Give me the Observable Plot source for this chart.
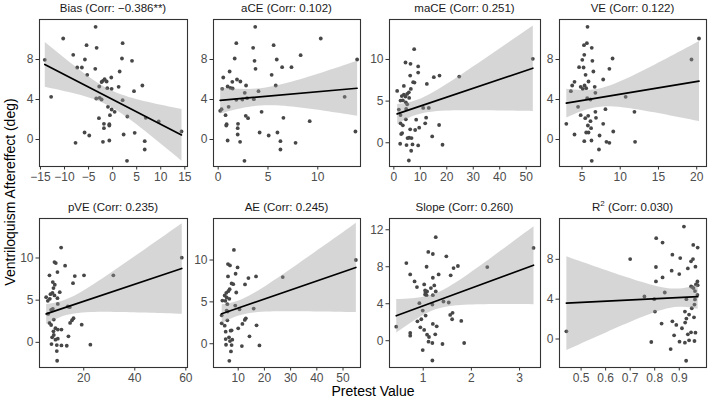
<!DOCTYPE html>
<html><head><meta charset="utf-8">
<script src="https://cdn.jsdelivr.net/npm/d3@7"></script>
<script src="https://cdn.jsdelivr.net/npm/@observablehq/plot@0.6"></script>
<style>
body{margin:0;background:#fff;font-family:"Liberation Sans",Arial,sans-serif;}
#chart{position:relative;width:709px;height:403px;overflow:hidden;}
.title{position:absolute;font-size:11.5px;color:#1a1a1a;text-align:center;white-space:nowrap;line-height:1;}
.title sup{font-size:8px;vertical-align:5px;line-height:0;}
.lab{position:absolute;font-size:14px;color:#000;white-space:nowrap;line-height:1;}
</style></head><body><div id="chart"></div>
<script>
// ---- data: [pretest value, ventriloquism aftereffect] per subject ----
const bias = [[-3.54,11.27],[-10.28,10.1],[2.08,9.63],[-5.42,9.43],[-3.33,9.17],[-8.19,8.47],[-14.1,7.97],[-5.76,8.0],[1.94,8.1],[4.03,7.87],[-7.36,7.2],[-6.39,7.2],[-3.61,7.07],[1.46,6.8],[-5.28,6.47],[-0.28,6.2],[-2.01,5.87],[-1.67,6.03],[-1.25,5.8],[-2.3,5.75],[6.18,5.4],[-2.78,5.3],[-1.11,5.13],[-0.21,5.07],[1.25,5.27],[4.44,4.83],[-12.78,4.27],[-3.4,4.1],[-2.71,4.17],[-2.29,4.0],[2.08,3.93],[-0.97,3.27],[-0.21,3.0],[0.42,2.77],[-0.56,2.43],[3.06,2.3],[-2.85,2.13],[6.88,2.17],[9.58,1.8],[-1.81,1.57],[-0.69,1.53],[-0.69,1.4],[-1.81,1.13],[14.31,0.8],[-5.83,0.7],[-4.86,0.4],[2.29,0.5],[4.58,0.67],[-0.69,-0.1],[-7.71,-0.33],[-2.01,-0.23],[6.67,-0.17],[6.67,-1.0],[2.99,-2.13]];
const aCE = [[3.72,11.27],[10.3,10.1],[1.82,9.63],[5.57,9.43],[3.51,9.17],[8.28,8.43],[1.66,8.1],[13.95,8.0],[5.88,8.0],[3.65,7.87],[6.42,7.23],[7.36,7.23],[3.75,7.07],[1.15,6.8],[5.37,6.47],[0.51,6.2],[1.89,6.0],[2.23,5.8],[1.42,5.77],[5.78,5.4],[2.8,5.4],[0.95,5.3],[1.22,5.17],[0.41,5.07],[1.45,5.1],[4.05,4.83],[2.67,4.67],[12.7,4.27],[2.9,4.13],[1.82,3.97],[2.43,4.0],[3.58,4.03],[1.05,3.27],[4.36,2.77],[0.2,2.87],[0.34,3.03],[0.74,2.43],[2.77,2.37],[3.0,2.13],[6.55,2.17],[9.19,1.83],[1.99,1.57],[0.85,1.53],[0.81,1.4],[1.96,1.13],[13.78,0.8],[4.16,0.7],[5.95,0.7],[5.07,0.4],[1.96,0.5],[0.95,-0.1],[2.2,-0.23],[6.25,-0.17],[7.77,-0.33],[6.25,-1.0],[2.64,-2.13]];
const maCE = [[7.68,11.24],[4.41,9.64],[6.3,9.48],[9.19,9.16],[9.19,8.43],[6.17,8.07],[17.25,8.07],[15.1,7.87],[24.7,7.95],[52.5,10.08],[7.3,7.27],[7.8,7.23],[12.47,7.07],[3.78,6.83],[6.42,6.47],[1.26,6.22],[5.67,6.06],[5.04,5.86],[3.78,5.78],[5.79,5.38],[2.52,5.06],[3.4,5.1],[3.0,5.6],[4.4,5.55],[4.53,4.86],[5.04,4.62],[4.66,4.06],[1.89,3.98],[11.08,4.18],[13.2,4.18],[2.52,3.33],[12.2,3.01],[4.53,2.81],[8.44,2.77],[2.52,2.33],[3.4,2.09],[11.84,2.33],[17.1,2.13],[6.17,1.61],[8.06,1.53],[9.57,1.81],[3.15,1.16],[2.77,1.04],[5.79,0.6],[6.68,0.56],[5.16,0.56],[14.48,0.76],[2.39,-0.12],[4.79,-0.28],[7.05,-0.2],[9.19,-0.32],[18.39,-0.24],[6.55,-0.96],[5.67,-2.13]];
const VE = [[5.72,11.27],[20.3,10.1],[5.64,9.63],[5.26,9.43],[6.28,9.17],[5.3,8.47],[9.0,8.1],[19.32,8.0],[5.04,7.97],[6.36,7.87],[4.62,7.23],[5.21,7.2],[8.58,7.07],[6.49,6.8],[5.47,6.47],[7.77,6.0],[5.85,5.8],[4.02,5.77],[3.72,5.4],[6.66,5.27],[4.83,5.27],[5.34,5.4],[5.55,5.13],[5.09,5.07],[3.55,4.83],[6.75,4.67],[5.68,4.13],[10.71,4.27],[6.11,4.0],[4.49,3.27],[8.07,3.03],[6.75,2.77],[11.86,2.77],[4.83,2.43],[5.81,2.37],[5.43,2.13],[6.83,2.17],[6.11,1.83],[7.77,1.57],[2.95,1.57],[5.77,1.4],[6.19,1.13],[9.09,0.8],[4.02,0.5],[5.55,0.7],[5.85,0.7],[7.3,0.4],[5.3,-0.17],[6.24,-0.1],[8.2,-0.23],[8.58,-0.33],[11.94,-0.23],[7.22,-1.0],[6.28,-2.13]];
const pVE = [[11.14,11.23],[58.4,10.04],[8.53,9.52],[9.06,9.4],[12.7,9.09],[9.7,8.33],[20.1,7.94],[31.6,7.94],[16.5,7.86],[6.58,7.94],[7.88,7.14],[8.66,6.83],[15.8,7.02],[8.14,6.43],[10.6,5.95],[5.28,5.36],[6.97,5.71],[7.75,5.87],[8.53,5.56],[9.7,5.24],[5.93,4.92],[6.71,5.16],[7.88,3.97],[7.23,3.85],[13.75,4.25],[14.5,4.17],[9.84,4.56],[6.06,3.37],[8.27,2.7],[16.0,2.86],[15.4,2.62],[14.65,2.3],[6.58,2.3],[7.23,2.06],[19.2,2.1],[8.92,1.67],[11.27,1.51],[9.84,1.51],[8.14,1.31],[8.27,0.87],[14.0,0.71],[7.62,0.6],[9.84,0.44],[8.92,0.32],[7.36,-0.2],[11.27,-0.36],[13.35,-0.4],[22.6,-0.28],[9.45,-0.32],[9.45,-1.03],[9.58,-2.18]];
const AE = [[8.36,11.2],[54.9,10.0],[6.1,9.52],[6.86,9.36],[9.75,9.12],[9.0,8.36],[16.8,8.04],[27.0,7.96],[13.9,7.84],[6.1,8.04],[7.48,7.2],[8.1,7.12],[12.6,7.08],[6.73,6.52],[9.25,6.12],[4.84,5.76],[5.47,6.08],[6.23,6.28],[5.6,5.52],[6.6,5.36],[3.96,5.16],[5.09,5.12],[5.85,4.72],[5.6,3.96],[5.97,3.84],[10.5,4.12],[15.9,4.2],[8.87,4.56],[3.7,3.4],[5.85,2.8],[12.9,3.04],[12.5,2.84],[11.6,2.36],[3.7,2.44],[4.84,2.16],[17.0,2.2],[7.1,1.56],[10.0,1.84],[7.48,1.6],[5.22,1.44],[6.48,0.76],[14.3,0.88],[5.22,0.56],[7.74,0.48],[6.86,0.32],[5.35,-0.12],[7.48,-0.16],[11.4,-0.28],[18.1,-0.2],[7.23,-0.92],[6.6,-2.04]];
const slope = [[1.26,11.2],[3.29,10.04],[1.105,9.6],[1.2,9.38],[1.48,9.13],[0.65,8.4],[1.07,8.0],[2.33,7.97],[1.72,8.08],[1.63,7.86],[0.73,7.17],[1.32,7.17],[1.57,7.07],[1.2,6.81],[0.82,6.41],[0.87,5.8],[1.02,6.09],[1.23,5.98],[1.16,5.69],[1.26,5.33],[1.04,5.43],[1.05,5.25],[1.08,5.33],[1.04,5.0],[1.07,4.93],[1.2,4.93],[0.92,4.06],[1.19,3.91],[1.42,4.24],[1.53,4.13],[0.99,3.26],[1.61,3.01],[1.56,2.79],[1.05,2.72],[1.6,2.32],[0.88,2.1],[0.96,2.32],[1.79,2.14],[0.44,1.52],[1.28,1.56],[1.2,1.81],[0.94,1.45],[1.02,1.16],[0.73,0.83],[0.73,0.54],[1.08,0.65],[1.25,0.69],[1.12,0.4],[1.11,-0.11],[1.19,-0.25],[1.4,-0.36],[1.85,-0.25],[0.99,-1.01],[1.19,-2.14]];
const r2 = [[0.919,11.29],[0.806,10.12],[0.832,9.68],[0.975,9.18],[0.957,9.45],[0.70,8.03],[0.872,8.47],[0.904,8.13],[0.956,8.03],[0.948,7.8],[0.805,7.23],[0.966,7.26],[0.935,7.09],[0.869,6.86],[0.832,6.18],[0.9,6.52],[0.805,5.78],[0.974,5.78],[0.968,5.48],[0.975,5.41],[0.948,5.28],[0.953,5.21],[0.958,5.11],[0.758,4.27],[0.841,4.67],[0.964,4.81],[0.974,4.44],[0.798,4.0],[0.929,4.0],[0.964,3.97],[0.962,3.46],[0.951,3.09],[0.801,2.76],[0.923,2.76],[0.94,2.45],[0.828,1.55],[0.872,1.78],[0.929,2.05],[0.96,2.18],[0.888,1.41],[0.924,1.65],[0.911,1.08],[0.879,0.37],[0.935,0.47],[0.948,0.67],[0.966,0.64],[0.44,0.77],[0.786,-0.3],[0.901,-0.27],[0.94,-0.13],[0.962,-0.2],[0.923,-0.37],[0.865,-1.01],[0.928,-2.18]];

const titles = ["Bias (Corr: −0.386**)", "aCE (Corr: 0.102)", "maCE (Corr: 0.251)", "VE (Corr: 0.122)",
                "pVE (Corr: 0.235)", "AE (Corr: 0.245)", "Slope (Corr: 0.260)", "R<sup>2</sup> (Corr: 0.030)"];
const xTickSets = [[-15,-10,-5,0,5,10,15],[0,5,10],[0,10,20,30,40,50],[5,10,15,20],
                   [20,40,60],[10,20,30,40,50],[1,2,3],[0.5,0.6,0.7,0.8,0.9]];
const yTickSets = [[0,4,8],[0,4,8],[0,5,10],[0,4,8],[0,5,10],[0,5,10],[0,4,8,12],[0,4,8]];
const xDomains = [[-15.2,15.56],[-0.47,14.29],[-1.64,55.4],[2.06,21.28],[2.67,60.65],[0.57,56.67],[0.30,3.435],[0.412,1.011]];
const yDomains = [[-2.7,12.0],[-2.7,12.0],[-2.85,14.8],[-2.7,12.0],[-2.98,14.68],[-2.84,14.96],[-2.9,13.22],[-2.86,12.1]];
const panels = [bias, aCE, maCE, VE, pVE, AE, slope, r2];

// ---- layout ----
const cols = [[39,187],[213,360],[389,540],[559,706]];
const rows = [[19,166],[218,367]];
const chart = document.getElementById("chart");
const ML = 30, MR = 12, MT = 2, MB = 24;
const minus = s => String(s).replace("-", "\u2212");

panels.forEach((pts, i) => {
  const [l, r] = cols[i % 4], [t, b] = rows[Math.floor(i / 4)];
  const data = pts.map(([x, y]) => ({x, y}));
  const svg = Plot.plot({
    width: r - l + ML + MR, height: b - t + MT + MB,
    marginLeft: ML, marginRight: MR, marginTop: MT, marginBottom: MB,
    x: {domain: xDomains[i]}, y: {domain: yDomains[i]},
    style: {fontFamily: '"Liberation Sans", Arial, sans-serif', fontSize: "12px", color: "#4d4d4d", background: "transparent", overflow: "visible"},
    marks: [
      Plot.dot(data, {x: "x", y: "y", r: 1.9, fill: "#474747", stroke: "none"}),
      Plot.linearRegressionY(data, {x: "x", y: "y", stroke: "#000", strokeWidth: 1.7, fill: "#999", fillOpacity: 0.4}),
      Plot.frame({stroke: "#333", strokeWidth: 1.1}),
      Plot.axisX({ticks: xTickSets[i], tickFormat: minus, fontSize: 12, tickSize: 3.5, tickPadding: 2, stroke: "#333", label: null}),
      Plot.axisY({ticks: yTickSets[i], tickFormat: minus, fontSize: 12, tickSize: 3.5, tickPadding: 2.5, stroke: "#333", label: null})
    ]
  });
  svg.style.position = "absolute";
  svg.style.left = (l - ML) + "px";
  svg.style.top = (t - MT) + "px";
  chart.appendChild(svg);
  const tt = document.createElement("div");
  tt.className = "title";
  tt.innerHTML = titles[i];
  tt.style.left = l + "px";
  tt.style.width = (r - l) + "px";
  tt.style.top = (t - 16) + "px";
  chart.appendChild(tt);
});

const xl = document.createElement("div");
xl.className = "lab"; xl.textContent = "Pretest Value";
xl.style.left = "0px"; xl.style.width = "746px"; xl.style.textAlign = "center"; xl.style.top = "384px";
chart.appendChild(xl);
const yl = document.createElement("div");
yl.className = "lab"; yl.textContent = "Ventriloquism Aftereffect (deg)";
yl.style.left = "10px"; yl.style.top = "192px";
yl.style.transform = "translate(-50%,-50%) rotate(-90deg)";
chart.appendChild(yl);
</script>
</body></html>
